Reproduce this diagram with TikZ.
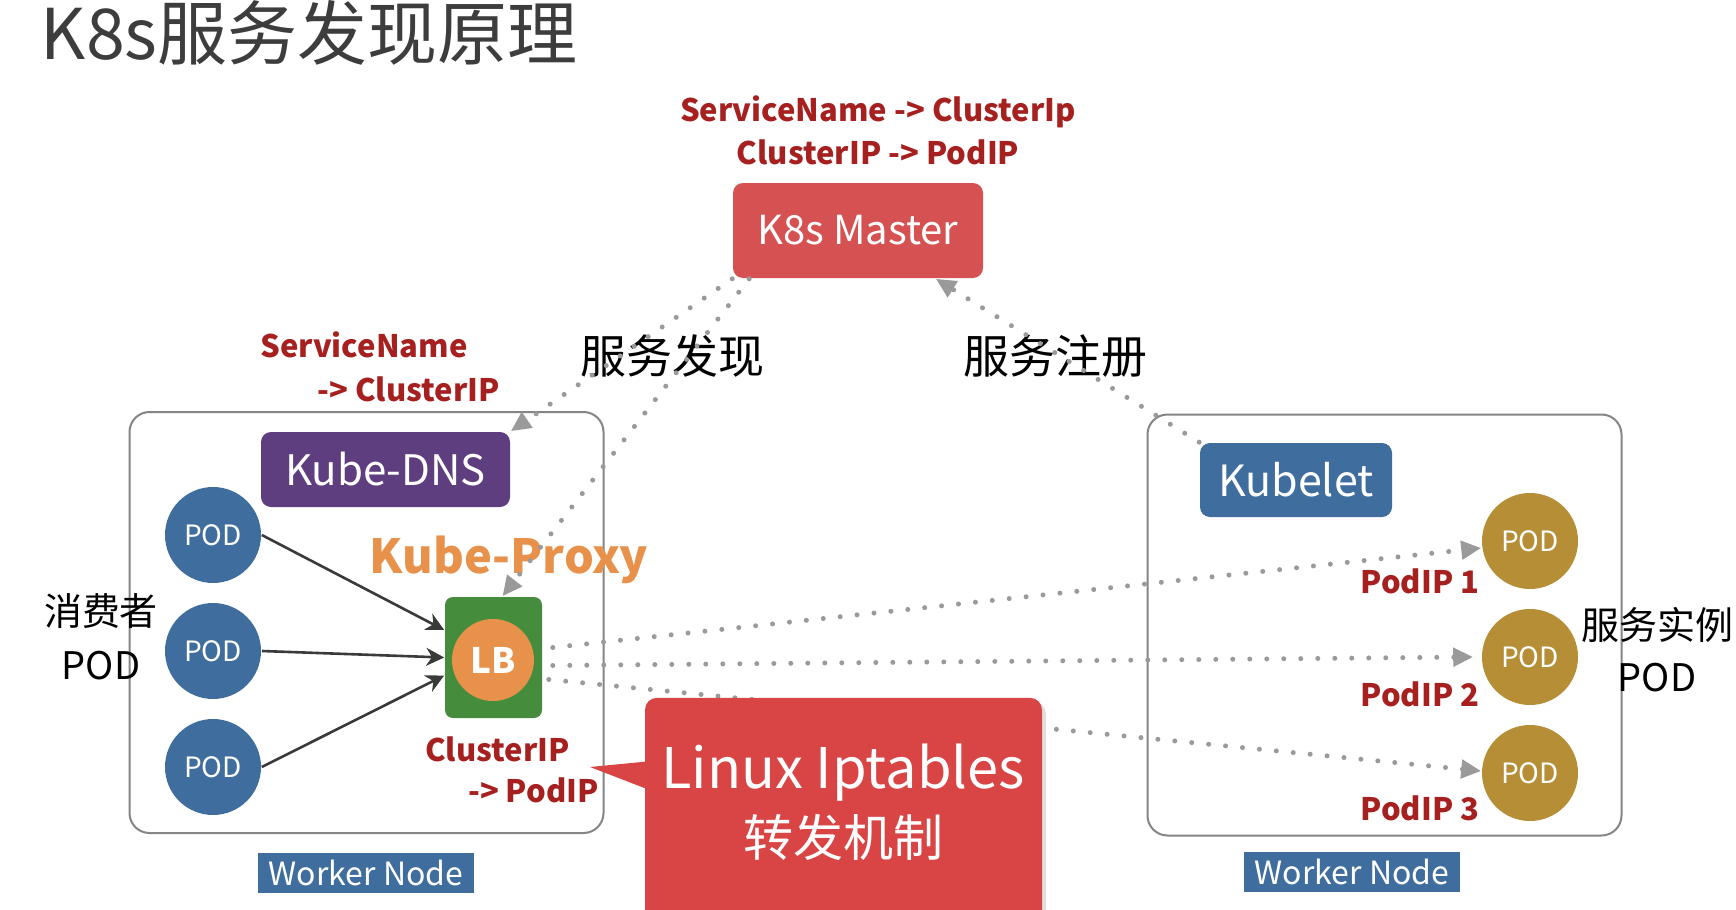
\documentclass[tikz,border=0pt]{standalone}
\usepackage{fontspec}
\setmainfont{Noto Sans CJK SC}
\usepackage{tikz}
\usetikzlibrary{arrows.meta, calc, shadows}
\tikzset{>={Stealth[width=9pt,length=9pt]}}
\definecolor{titlegray}{HTML}{3D3D3D}
\definecolor{masterred}{HTML}{D65252}
\definecolor{iptred}{HTML}{D94444}
\definecolor{labred}{HTML}{A62020}
\definecolor{dnspurple}{HTML}{5E3E7E}
\definecolor{podblue}{HTML}{3F6E9E}
\definecolor{podgold}{HTML}{B58E35}
\definecolor{lbgreen}{HTML}{458C3C}
\definecolor{lborange}{HTML}{E8914A}
\definecolor{dotgray}{HTML}{9A9A9A}
\definecolor{arrowgray}{HTML}{3A3A3A}
\definecolor{workgray}{HTML}{858585}

\begin{document}
\begin{tikzpicture}[x=0.5pt, y=-0.5pt, node distance={58pt}, thick,
  pod/.style = {circle, fill=podblue, text=white, minimum size=48pt, inner sep=0pt, font=\fontsize{14}{16}\selectfont},
  gpod/.style = {pod, fill=podgold},
  tbox/.style = {rounded corners=5pt, text=white, inner sep=0pt},
  worker/.style = {draw=workgray, line width=1pt, rounded corners=10pt, minimum width=237pt, minimum height=210.5pt},
  wlabel/.style = {fill=podblue, text=white, minimum width=108pt, minimum height=20pt, inner sep=0pt, font=\fontsize{16}{20}\selectfont},
  ipl/.style = {text=labred, inner sep=0pt, font=\fontsize{15.5}{21.5}\selectfont\bfseries},
  dotarrow/.style = {draw=dotgray, line width=2.5pt, line cap=round, dash pattern=on 0pt off 8.5pt, -{Triangle[length=10pt,width=9pt]}},
  solidarrow/.style = {->, draw=arrowgray, fill=arrowgray, line width=1.3pt}]
\fill[white] (0,0) rectangle (1736,910);
\useasboundingbox (0,0) rectangle (1736,910);
\node[anchor=base west, inner sep=0pt, text=titlegray, font=\fontsize{35}{40}\selectfont] (title) at (40,60) {K8s服务发现原理};
\node[ipl, align=center] (maplbl) at (878,130) {ServiceName -> ClusterIp\\ClusterIP -> PodIP};
\node[tbox, fill=masterred, minimum width=125pt, minimum height=47.5pt, font=\fontsize{20}{24}\selectfont] (master) at (858,230.5) {K8s Master};
\node[font=\fontsize{23}{28}\selectfont] (find) at (672,356) {服务发现};
\node[font=\fontsize{23}{28}\selectfont] (reg) at (1055,356) {服务注册};
\node[ipl, align=left, font=\fontsize{15.5}{22}\selectfont\bfseries] (dnslbl) at (380,367) {ServiceName\\\hspace*{28.5pt}-> ClusterIP};
\node[worker] (wl) at (366.5,622.5) {};
\node[worker] (wr) at (1384.5,625) {};
\node[tbox, fill=dnspurple, minimum width=124.5pt, minimum height=37.5pt, font=\fontsize{21}{24}\selectfont] (dns) at (385.5,469.5) {Kube-DNS};
\node[pod] (p1) at (213,535) {POD};
\node[pod] (p2) [below of=p1] {POD};
\node[pod] (p3) [below of=p2] {POD};
\node[font=\fontsize{19}{27}\selectfont, align=center] (cons) at (101,637) {消费者\\POD};
\node[anchor=base west, inner sep=0pt, text=lborange, font=\fontsize{23.5}{28}\selectfont\bfseries] (proxy) at (369,573) {Kube-Proxy};
\node[tbox, fill=lbgreen, rounded corners=4pt, minimum width=48.5pt, minimum height=60.5pt] (lb) at (493.5,657.5) {};
\node[circle, fill=lborange, text=white, minimum size=41pt, inner sep=0pt, font=\fontsize{17.5}{20}\selectfont\bfseries] (lbc) at (493,660) {LB};
\node[ipl, align=left, font=\fontsize{15.5}{20.5}\selectfont\bfseries] (cplbl) at (512,770) {ClusterIP\\\hspace*{21.5pt}-> PodIP};
\node[wlabel] (wll) at (366,872.5) {Worker Node};
\node[wlabel] (wlr) at (1352,872) {Worker Node};
\node[tbox, fill=podblue, minimum width=96pt, minimum height=37pt, font=\fontsize{21.5}{24}\selectfont] (kubelet) at (1296,480) {Kubelet};
\node[gpod] (q1) at (1530,541) {POD};
\node[gpod] (q2) [below of=q1] {POD};
\node[gpod] (q3) [below of=q2] {POD};
\node[ipl] (ip1) at (1420,581) {PodIP 1};
\node[ipl] (ip2) at (1420,694) {PodIP 2};
\node[ipl] (ip3) at (1420,808) {PodIP 3};
\node[font=\fontsize{19}{26}\selectfont, align=center] (inst) at (1657,650) {服务实例\\POD};
\draw[solidarrow] (p1.east) -- ([yshift=13.75pt]lb.west);
\draw[solidarrow] (p2.east) -- (lb.west);
\draw[solidarrow] (p3.east) -- ([yshift=-9pt]lb.west);
\draw[dotarrow] (master.south west) -- (dns.north east);
\draw[dotarrow] ([xshift=8.5pt]master.south west) -- ([xshift=4.5pt]lb.north);
\draw[dotarrow] (kubelet.north west) -- (master);
\draw[dotarrow] ([xshift=5pt, yshift=5pt]lb.east) -- ([yshift=-3.5pt]q1.west);
\draw[dotarrow] ([xshift=5pt, yshift=-4pt]lb.east) -- ([xshift=-4pt]q2.west);
\draw[dotarrow] ([xshift=3pt, yshift=-11pt]lb.east) -- ([yshift=1pt]q3.west);
\node[fill=iptred, rounded corners=6pt, minimum width=198.5pt, minimum height=130pt, anchor=north, drop shadow={shadow xshift=2pt, shadow yshift=-2pt, opacity=0.25}] (ipt) at (843.5,697) {};
\coordinate (tip) at (590,767);
\fill[iptred] ($(ipt.north west)+(8,64)$) -- (tip) -- ($(ipt.north west)+(8,94)$) -- cycle;
\node[text=white, align=center, font=\fontsize{28}{34}\selectfont] (ipttxt) at (843,802) {Linux Iptables\\{\fontsize{25}{34}\selectfont 转发机制}};
\end{tikzpicture}
\end{document}
